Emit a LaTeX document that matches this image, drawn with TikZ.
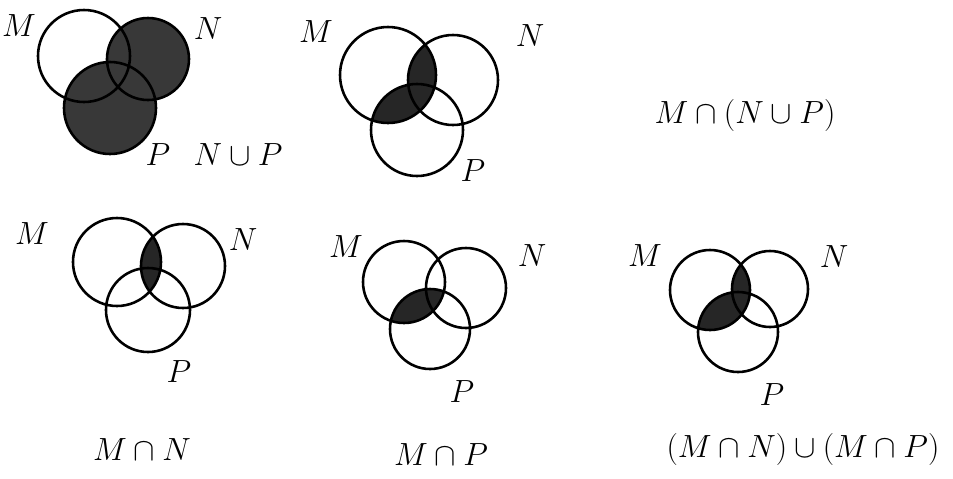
\documentclass[tikz,border=0pt]{standalone}
\usepackage{amsmath,amssymb}
\usepackage{tikz}
\usetikzlibrary{positioning}
\tikzset{
  setline/.style={line width=2.2pt},
  dark/.style={fill=black!85},
  lbl/.style={font=\Huge, scale=1.1},
}

\begin{document}
\begin{tikzpicture}[x=0.3mm, y=-0.3mm]
    \useasboundingbox (0,0) rectangle (953,478);
    % N u P
    \fill[black!78] (148,59) circle (41) (110,108) circle (46);
    \draw[setline] (84,56) circle (46) (148,59) circle (41) (110,108) circle (46);
    \node[lbl] (m1) at (19,26) {$M$};
    \node[lbl] (n1) at (208,29) {$N$};
    \node[lbl] (p1) at (158,155) {$P$};
    \node[lbl] (t1) at (238,155) {$N\cup P$};
    % M n (N u P)
    \begin{scope}
        \clip (388,75) circle (48);
        \fill[dark] (453,80) circle (45);
        \fill[dark] (417,130) circle (46);
    \end{scope}
    \draw[setline] (388,75) circle (48) (453,80) circle (45) (417,130) circle (46);
    \node[lbl] (m2) at (316,32) {$M$};
    \node[lbl] (n2) at (530,36) {$N$};
    \node[lbl] (p2) at (473,171) {$P$};
    \node[lbl] (t2) at (745,115) {$M\cap(N\cup P)$};
    % M n N
    \begin{scope}
        \clip (117,262) circle (44);
        \fill[dark] (183,266) circle (42);
    \end{scope}
    \draw[setline] (117,262) circle (44) (183,266) circle (42) (148,310) circle (42);
    \node[lbl] (m3) at (32,234) {$M$};
    \node[lbl] (n3) at (243,240) {$N$};
    \node[lbl] (p3) at (179,372) {$P$};
    \node[lbl] (t3) at (142,450) {$M\cap N$};
    % M n P
    \begin{scope}
        \clip (404,282) circle (41);
        \fill[dark] (430,329) circle (40);
    \end{scope}
    \draw[setline] (404,282) circle (41) (466,288) circle (40) (430,329) circle (40);
    \node[lbl] (m4) at (346,247) {$M$};
    \node[lbl] (n4) at (532,256) {$N$};
    \node[lbl] (p4) at (462,392) {$P$};
    \node[lbl] (t4) at (441,455) {$M\cap P$};
    % (M n N) u (M n P)
    \begin{scope}
        \clip (710,290) circle (40);
        \fill[dark] (770,289) circle (38);
        \fill[dark] (738,332) circle (40);
    \end{scope}
    \draw[setline] (710,290) circle (40) (770,289) circle (38) (738,332) circle (40);
    \node[lbl] (m5) at (645,256) {$M$};
    \node[lbl] (n5) at (834,257) {$N$};
    \node[lbl] (p5) at (772,395) {$P$};
    \node[lbl] (t5) at (803,449) {$(M\cap N)\cup(M\cap P)$};
\end{tikzpicture}
\end{document}
